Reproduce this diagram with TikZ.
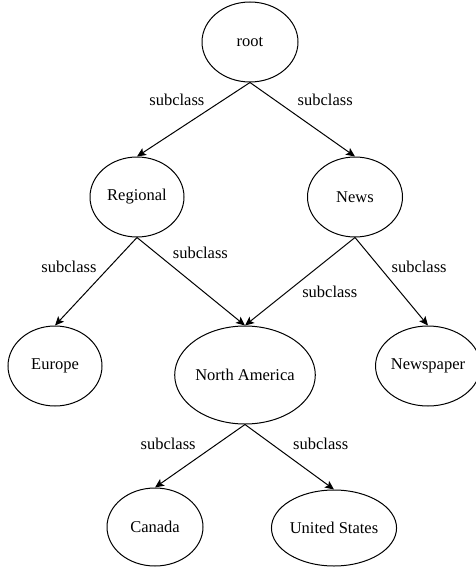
\documentclass[tikz,border=0pt]{standalone}
\usepackage{fontspec}
\setmainfont{Liberation Serif}
\usetikzlibrary{shapes.geometric, arrows.meta}

\begin{document}
\begin{tikzpicture}[
    x=1pt, y=-1pt,
    class/.style={ellipse, draw, line width=1pt, inner sep=0pt, font=\fontsize{16.5}{19}\selectfont},
    lbl/.style={font=\fontsize{16.5}{19}\selectfont, inner sep=0pt},
    arrow/.style={-{Stealth[length=9pt, width=8pt, inset=2pt]}, line width=1pt}
]
    \useasboundingbox (0,0) rectangle (475,567);

    % Top
    \node[class, minimum width=96pt, minimum height=80pt] (root) at (250,42) {root};

    % Second level
    \node[class, minimum width=94pt, minimum height=80pt] (regional) at (137,197) {Regional};
    \node[class, minimum width=95pt, minimum height=80pt] (news) at (355,197) {News};

    % Third level
    \node[class, minimum width=94pt, minimum height=80pt] (europe) at (55,366) {Europe};
    \node[class, minimum width=118pt, minimum height=98pt] (namerica) at (245,375) {North America};
    \node[class, minimum width=90pt, minimum height=80pt] (newspaper) at (428,366) {Newspaper};

    % Bottom
    \node[class, minimum width=96pt, minimum height=78pt] (canada) at (155,527) {Canada};
    \node[class, minimum width=120pt, minimum height=76pt] (usa) at (334,528) {United States};

    % Arrows
    \draw[arrow] (root.south) -- node[lbl, pos=0.24, xshift=-46pt] {subclass} (regional.north);
    \draw[arrow] (root.south) -- node[lbl, pos=0.24, xshift=50pt] {subclass} (news.north);
    \draw[arrow] (regional.south) -- node[lbl, pos=0.33, xshift=-41pt] {subclass} (europe.north);
    \draw[arrow] (regional.south) -- node[lbl, pos=0.17, xshift=45pt] {subclass} (namerica.north);
    \draw[arrow] (news.south) -- node[lbl, pos=0.62, xshift=43pt] {subclass} (namerica.north);
    \draw[arrow] (news.south) -- node[lbl, pos=0.33, xshift=40pt] {subclass} (newspaper.north);
    \draw[arrow] (namerica.south) -- node[lbl, pos=0.31, xshift=-49pt] {subclass} (canada.north);
    \draw[arrow] (namerica.south) -- node[lbl, pos=0.30, xshift=49pt] {subclass} (usa.north);
\end{tikzpicture}
\end{document}
